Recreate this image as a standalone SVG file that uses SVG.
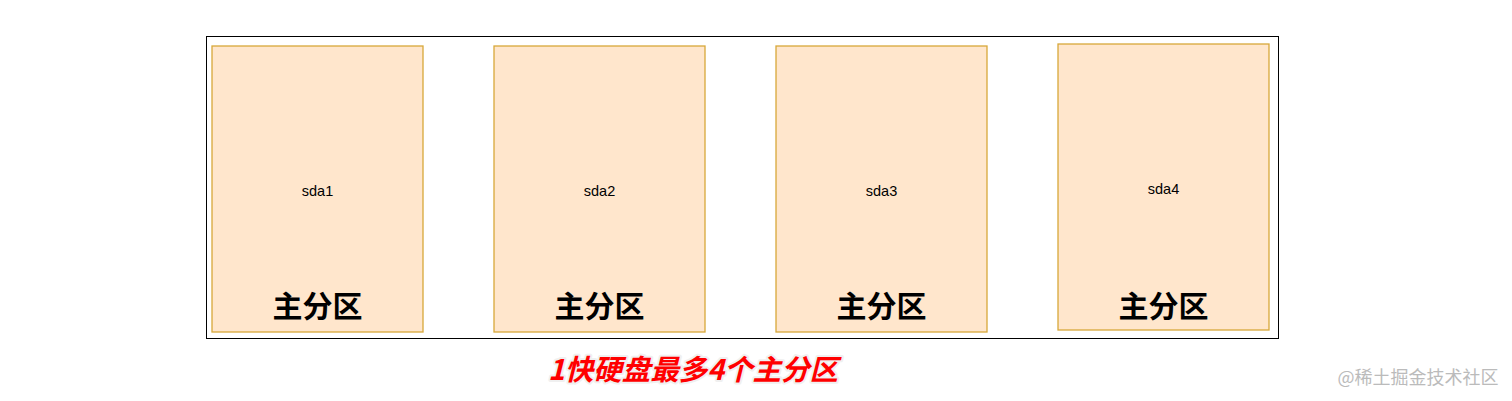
<svg xmlns="http://www.w3.org/2000/svg" width="1512" height="401" viewBox="0 0 1512 401">
<style>
.part{fill:#ffe6cc;stroke:#d8a83a;stroke-width:1.3}
.lbl{font-family:"Liberation Sans",Arial,sans-serif;font-size:14.5px;fill:#000;text-anchor:middle}
.big{font-family:"Noto Sans CJK SC","Noto Sans",sans-serif;font-size:30px;font-weight:bold;fill:#000;text-anchor:middle}
</style>
<rect width="1512" height="401" fill="#fff"/>
<g id="disk"><rect x="206.5" y="36.5" width="1072" height="302" fill="#fff" stroke="#000" stroke-width="1"/></g>
<g id="sda1"><rect class="part" x="212" y="46" width="211" height="286"/><text class="lbl" x="317.5" y="196">sda1</text><text class="big" x="317.5" y="317">主分区</text></g>
<g id="sda2"><rect class="part" x="494" y="46" width="211" height="286"/><text class="lbl" x="599.5" y="196">sda2</text><text class="big" x="599.5" y="317">主分区</text></g>
<g id="sda3"><rect class="part" x="776" y="46" width="211" height="286"/><text class="lbl" x="881.5" y="196">sda3</text><text class="big" x="881.5" y="317">主分区</text></g>
<g id="sda4"><rect class="part" x="1058" y="44" width="211" height="286"/><text class="lbl" x="1163.5" y="194">sda4</text><text class="big" x="1163.5" y="317">主分区</text></g>
<g id="connectors"></g>
<text x="693" y="380" text-anchor="middle" font-family="Noto Sans CJK SC,sans-serif" font-size="28.5" font-weight="bold" font-style="italic" fill="#ff0000" stroke="#f0f0f0" stroke-width="4" paint-order="stroke" stroke-linejoin="round">1快硬盘最多4个主分区</text>
<text x="1418" y="384" text-anchor="middle" font-family="Noto Sans CJK SC,sans-serif" font-size="18" fill="#bbbbbb">@稀土掘金技术社区</text>
</svg>
